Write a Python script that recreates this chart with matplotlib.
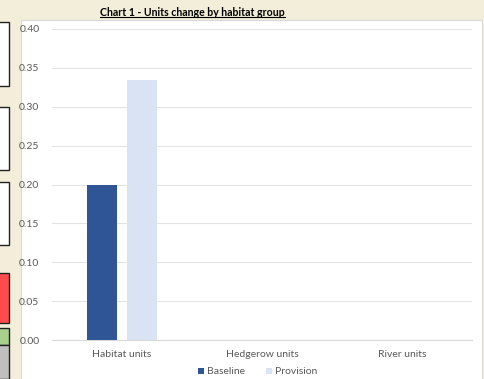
import matplotlib.pyplot as plt
from matplotlib.patches import Rectangle
from matplotlib.lines import Line2D
import numpy as np

categories = ["Habitat units", "Hedgerow units", "River units"]
baseline = [0.20, 0.0, 0.0]
provision = [0.335, 0.0, 0.0]
yticks = [0.00, 0.05, 0.10, 0.15, 0.20, 0.25, 0.30, 0.35, 0.40]

W, H = 485, 379
fig = plt.figure(figsize=(W / 100, H / 100), dpi=100)
fig.patch.set_facecolor("#F2EED9")
FONT = "Lato"

def px(x, y, w, h):
    # pixel box (top-left origin) -> figure fraction
    return (x / W, 1 - (y + h) / H, w / W, h / H)

# spreadsheet cells peeking in on the left
cells = [(22, 86, "white", [44, 65]), (107, 170, "white", [128, 149]),
         (182, 245, "white", [203, 224]), (273, 323, "#FF4B4B", [289, 306]),
         (328, 345, "#A9D18E", []), (345, 379, "#BFBFBF", [362])]
for top, bot, col, inner in cells:
    x0, y0, w0, h0 = px(-2, top, 11, bot - top)
    fig.patches.append(Rectangle((x0, y0), w0, h0, transform=fig.transFigure,
                                 facecolor=col, edgecolor="#222222", lw=1.0, zorder=0))
    for yy in inner:
        fig.lines.append(Line2D([0, 9 / W], [1 - yy / H] * 2, transform=fig.transFigure,
                                color="#A0A0A0", lw=0.6, zorder=0))

# white chart area
x0, y0, w0, h0 = px(21, 20, 461, 362)
fig.patches.append(Rectangle((x0, y0), w0, h0, transform=fig.transFigure,
                             facecolor="white", edgecolor="#D9D9D9", lw=0.8, zorder=0))

ax = fig.add_axes(px(52, 29, 420, 311))
ax.set_zorder(5)
ax.set_facecolor("none")
x = np.arange(len(categories))
bw = 0.22
ax.bar(x - 0.143, baseline, bw, color="#2F5597", label="Baseline", zorder=3)
ax.bar(x + 0.143, provision, bw, color="#DAE3F3", label="Provision", zorder=3)
ax.set_xlim(-0.5, 2.5)
ax.set_ylim(0, 0.40)
ax.set_yticks(yticks)
ax.set_yticklabels([f"{v:.2f}" for v in yticks])
ax.set_xticks(x)
ax.set_xticklabels(categories)
ax.tick_params(axis="both", length=0, labelsize=7.5, colors="#595959")
ax.tick_params(axis="y", pad=9)
ax.tick_params(axis="x", pad=7)
ax.grid(axis="y", color="#E3E3E3", lw=0.8, zorder=0)
for s in ["top", "right", "left"]:
    ax.spines[s].set_visible(False)
ax.spines["bottom"].set_color("#D9D9D9")
for lab in ax.get_xticklabels() + ax.get_yticklabels():
    lab.set_fontfamily(FONT)

leg = ax.legend(loc="upper center", bbox_to_anchor=(0.49, -0.058), ncol=2, frameon=False,
                prop={"family": FONT, "size": 7.5}, handlelength=0.55, handleheight=0.55,
                handletextpad=0.3, columnspacing=2.0)
for t in leg.get_texts():
    t.set_color("#595959")

title = fig.text(100 / W, 1 - 12.5 / H, "Chart 1 - Units change by habitat group",
                 fontsize=7.6, fontweight="bold", family=FONT, va="center", ha="left")
fig.canvas.draw()
bb = title.get_window_extent().transformed(fig.transFigure.inverted())
fig.lines.append(Line2D([bb.x0, bb.x1], [bb.y0 + 0.002] * 2, transform=fig.transFigure,
                        color="black", lw=0.8))

fig.savefig("out.png", dpi=100, facecolor=fig.get_facecolor())
